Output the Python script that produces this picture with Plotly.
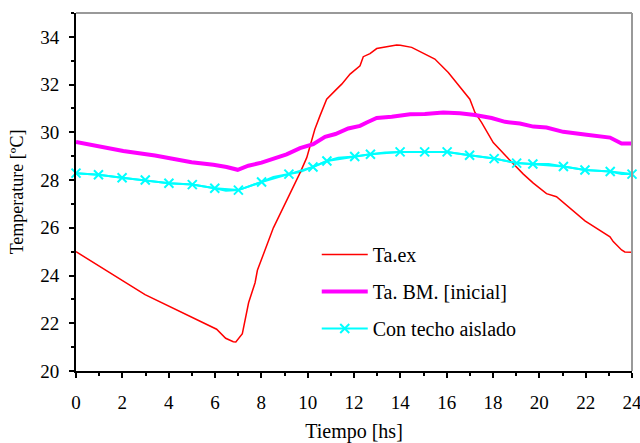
import plotly.graph_objects as go

# Ta.ex (outdoor air temperature)
red_t = [0, 2.98, 6.07, 6.46, 6.79, 6.9, 7.18, 7.27, 7.45, 7.73, 7.83, 8.52, 9.09, 9.67,
         9.96, 10.31, 10.53, 10.82, 11.25, 11.47, 11.83, 12.26, 12.4, 12.69, 12.98, 13.84,
         14.0, 14.49, 15.49, 16.07, 17.0, 17.22, 17.51, 18.01, 18.73, 19.31, 19.74, 20.31,
         20.74, 21.97, 23.05, 23.19, 23.55, 23.69, 24]
red_y = [25.0, 23.2, 21.75, 21.37, 21.23, 21.22, 21.56, 22.03, 22.86, 23.7, 24.22, 26.0, 27.13, 28.3,
         28.94, 30.13, 30.69, 31.39, 31.81, 32.02, 32.44, 32.79, 33.17, 33.3, 33.51, 33.66,
         33.65, 33.56, 33.07, 32.51, 31.39, 30.83, 30.41, 29.57, 28.83, 28.25, 27.87, 27.43,
         27.3, 26.29, 25.62, 25.42, 25.07, 24.99, 24.98]

# Ta. BM. [inicial]
mag_t = [0, 0.96, 2.04, 3.41, 3.91, 4.99, 5.93, 6.5, 6.98, 7.44, 8.01, 9.09, 9.67, 10.24,
         10.75, 11.2, 11.75, 12.26, 12.55, 12.98, 13.63, 14.42, 15.06, 15.85, 16.57, 17.22,
         17.94, 18.52, 19.16, 19.74, 20.31, 21.03, 22.04, 23.05, 23.55, 24]
mag_y = [29.6, 29.42, 29.22, 29.03, 28.93, 28.75, 28.64, 28.55, 28.43, 28.6, 28.73, 29.08, 29.34, 29.5,
         29.81, 29.93, 30.16, 30.27, 30.41, 30.6, 30.65, 30.76, 30.77, 30.83, 30.8, 30.73,
         30.6, 30.44, 30.37, 30.24, 30.2, 30.02, 29.9, 29.78, 29.53, 29.53]

# Con techo aislado (line path)
cyan_t = [0, 0.97, 1.99, 2.99, 4.01, 5.02, 5.99, 6.47, 7.01, 8.01, 8.52, 9.19, 9.67, 10.23,
          10.83, 11.32, 12.03, 12.71, 13.34, 13.99, 15.05, 16.02, 16.99, 18.05, 19.02, 19.72,
          20.4, 21.04, 21.97, 23.06, 23.55, 24]
cyan_y = [28.29, 28.22, 28.1, 28.0, 27.87, 27.81, 27.66, 27.55, 27.58, 27.92, 28.13, 28.25, 28.34, 28.55,
          28.8, 28.94, 28.99, 29.08, 29.15, 29.18, 29.18, 29.18, 29.04, 28.9, 28.71, 28.67,
          28.67, 28.57, 28.42, 28.36, 28.25, 28.25]
# Con techo aislado (marked points)
cyan_mk_t = [0, 0.97, 1.99, 2.99, 4.01, 5.02, 5.99, 7.01, 8.01, 9.19, 10.23, 10.83, 12.03, 12.71,
             13.99, 15.05, 16.02, 16.99, 18.05, 19.02, 19.72, 21.04, 21.97, 23.06, 24]
cyan_mk_y = [28.29, 28.22, 28.1, 28.0, 27.87, 27.81, 27.66, 27.58, 27.92, 28.25, 28.55, 28.8, 28.99, 29.08,
             29.18, 29.18, 29.18, 29.04, 28.9, 28.71, 28.67, 28.57, 28.42, 28.36, 28.25]

x_ticks = list(range(0, 25, 2))
y_ticks = list(range(20, 35, 2))

FONT = "Liberation Serif"

fig = go.Figure()
fig.add_trace(go.Scatter(x=cyan_t, y=cyan_y, mode="lines", line=dict(color="#00FFFF", width=2),
                         showlegend=False, hoverinfo="skip", cliponaxis=False))
fig.add_trace(go.Scatter(x=red_t, y=red_y, mode="lines", name="Ta.ex",
                         line=dict(color="#FF0000", width=1.5), legendgroup="a", cliponaxis=False))
fig.add_trace(go.Scatter(x=mag_t, y=mag_y, mode="lines", name="Ta. BM. [inicial]",
                         line=dict(color="#FF00FF", width=4), legendgroup="b", cliponaxis=False))
fig.add_trace(go.Scatter(x=cyan_mk_t, y=cyan_mk_y, mode="lines+markers", name="Con techo aislado",
                         line=dict(color="#00FFFF", width=2),
                         marker=dict(symbol="x-thin-open", size=9, color="#00FFFF",
                                     line=dict(color="#00FFFF", width=2)),
                         legendgroup="c", cliponaxis=False))

fig.update_layout(
    width=640, height=443,
    margin=dict(l=76, r=8, t=13, b=72),
    paper_bgcolor="white", plot_bgcolor="white",
    font=dict(family=FONT, size=18, color="black"),
    showlegend=True,
    legend=dict(x=0.433, y=0.38, xanchor="left", yanchor="top", itemwidth=46,
                bgcolor="rgba(0,0,0,0)", font=dict(family=FONT, size=20),
                traceorder="grouped", tracegroupgap=8),
    xaxis=dict(range=[0, 24], tickvals=x_ticks, ticks="outside", ticklen=5, tickwidth=1.5,
               tickcolor="black", showline=True, linecolor="black", linewidth=2,
               showgrid=False, zeroline=False, ticklabelstandoff=8, automargin=False,
               ticklabeloverflow="allow", tickfont=dict(family=FONT, size=19),
               minor=dict(dtick=1, ticks="outside", ticklen=3, tickcolor="black", tickwidth=1.5),
               title=dict(text="Tiempo [hs]", font=dict(family=FONT, size=20), standoff=18)),
    yaxis=dict(range=[20, 35], tickvals=y_ticks, ticks="outside", ticklen=5, tickwidth=1.5,
               tickcolor="black", showline=True, linecolor="black", linewidth=2,
               showgrid=False, zeroline=False, ticklabelstandoff=6, automargin=False,
               tickfont=dict(family=FONT, size=19),
               minor=dict(dtick=1, ticks="outside", ticklen=3, tickcolor="black", tickwidth=1.5),
               title=dict(text="Temperature [ºC]", font=dict(family=FONT, size=18), standoff=12)),
)

# gray top and right frame
fig.add_shape(type="line", xref="paper", yref="paper", x0=0, x1=1, y0=1, y1=1,
              line=dict(color="#999999", width=2))
fig.add_shape(type="line", xref="paper", yref="paper", x0=1, x1=1, y0=0, y1=1,
              line=dict(color="#999999", width=2))

fig.write_html("out.html")
